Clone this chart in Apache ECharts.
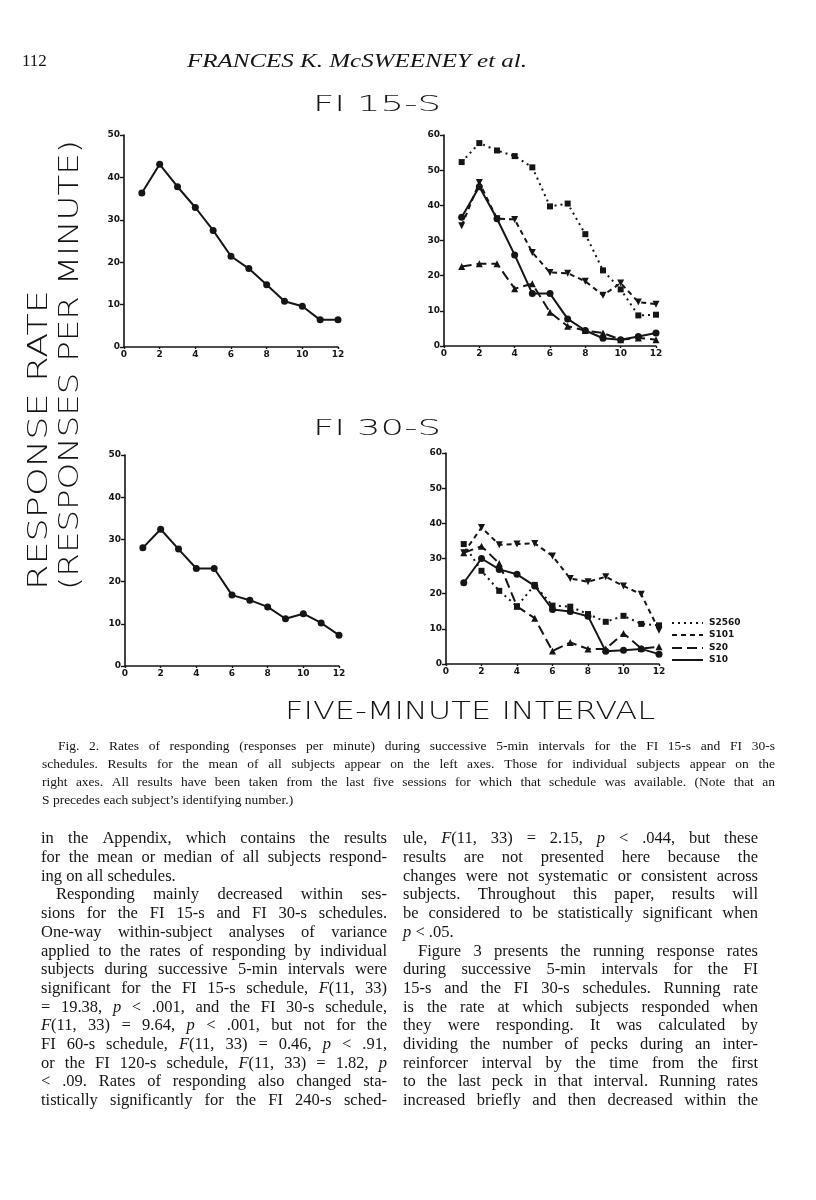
<!DOCTYPE html>
<html><head><meta charset="utf-8">
<script src="https://cdn.jsdelivr.net/npm/echarts@6/dist/echarts.min.js"></script>
<style>html,body{margin:0;padding:0;background:#fff}#c{width:816px;height:1200px}</style>
</head><body><div id="c"></div>
<script>
// ---------- data ----------
const intervals = [1, 2, 3, 4, 5, 6, 7, 8, 9, 10, 11, 12];
const xTickLabels = [0, 2, 4, 6, 8, 10, 12];
const leftYTickLabels = [0, 10, 20, 30, 40, 50];
const rightYTickLabels = [0, 10, 20, 30, 40, 50, 60];
const subjects = ['S2560', 'S101', 'S20', 'S10'];

const fi15Mean = [36.3, 43.1, 37.8, 32.9, 27.5, 21.4, 18.5, 14.7, 10.8, 9.6, 6.4, 6.4];
const fi30Mean = [28.0, 32.4, 27.7, 23.1, 23.1, 16.8, 15.6, 14.0, 11.2, 12.4, 10.2, 7.3];

const fi15S2560 = [52.3, 57.7, 55.6, 54.0, 50.8, 39.7, 40.5, 31.8, 21.5, 16.1, 8.7, 8.9];
const fi15S101  = [34.2, 46.5, 36.2, 36.0, 26.6, 20.9, 20.7, 18.4, 14.4, 17.9, 12.5, 11.9];
const fi15S20   = [22.6, 23.4, 23.4, 16.3, 17.7, 9.6, 5.6, 4.4, 3.7, 1.8, 2.3, 1.8];
const fi15S10   = [36.6, 45.3, 36.2, 25.9, 14.9, 14.9, 7.7, 4.4, 2.2, 1.8, 2.7, 3.7];

const fi30S2560 = [34.1, 26.5, 20.8, 16.4, 22.5, 16.6, 16.3, 14.2, 12.0, 13.7, 11.4, 11.0];
const fi30S101  = [31.6, 38.8, 33.9, 34.1, 34.3, 30.7, 24.3, 23.4, 24.8, 22.2, 19.8, 9.6];
const fi30S20   = [31.6, 33.5, 28.6, 16.4, 13.0, 3.7, 6.1, 4.3, 4.3, 8.7, 4.4, 4.9];
const fi30S10   = [23.1, 30.0, 26.9, 25.5, 22.2, 15.5, 14.9, 13.6, 3.6, 3.9, 4.3, 2.8];

const captionLines = [
  'Fig. 2.  Rates of responding (responses per minute) during successive 5-min intervals for the FI 15-s and FI 30-s',
  'schedules. Results for the mean of all subjects appear on the left axes. Those for individual subjects appear on the',
  'right axes. All results have been taken from the last five sessions for which that schedule was available. (Note that an',
  'S precedes each subject\u2019s identifying number.)'
];
const leftColumnLines = [
  'in the Appendix, which contains the results',
  'for the mean or median of all subjects respond-',
  'ing on all schedules.',
  'Responding mainly decreased within ses-',
  'sions for the FI 15-s and FI 30-s schedules.',
  'One-way within-subject analyses of variance',
  'applied to the rates of responding by individual',
  'subjects during successive 5-min intervals were',
  'significant for the FI 15-s schedule, *F*(11, 33)',
  '= 19.38, *p* < .001, and the FI 30-s schedule,',
  '*F*(11, 33) = 9.64, *p* < .001, but not for the',
  'FI 60-s schedule, *F*(11, 33) = 0.46, *p* < .91,',
  'or the FI 120-s schedule, *F*(11, 33) = 1.82, *p*',
  '< .09. Rates of responding also changed sta-',
  'tistically significantly for the FI 240-s sched-'
];
const rightColumnLines = [
  'ule, *F*(11, 33) = 2.15, *p* < .044, but these',
  'results are not presented here because the',
  'changes were not systematic or consistent across',
  'subjects. Throughout this paper, results will',
  'be considered to be statistically significant when',
  '*p* < .05.',
  'Figure 3 presents the running response rates',
  'during successive 5-min intervals for the FI',
  '15-s and the FI 30-s schedules. Running rate',
  'is the rate at which subjects responded when',
  'they were responding. It was calculated by',
  'dividing the number of pecks during an inter-',
  'reinforcer interval by the time from the first',
  'to the last peck in that interval. Running rates',
  'increased briefly and then decreased within the'
];

// ---------- helpers ----------
const INK = '#151515';
const meas = document.createElement('canvas').getContext('2d');
function tw(s, font) { meas.font = font; return meas.measureText(s).width; }

function txt(text, x, y, font, extra) {
  return Object.assign({
    type: 'text', x: x, y: y, silent: true,
    style: { text: text, font: font, fill: INK, textAlign: 'left', textVerticalAlign: 'middle', align: 'left', verticalAlign: 'middle' }
  }, extra || {});
}
function fitText(text, cx, cy, targetW, font, rot) {
  const w = tw(text, font);
  return {
    type: 'text', x: cx, y: cy, rotation: rot || 0, scaleX: targetW / w, silent: true,
    style: { text: text, font: font, fill: INK, textAlign: 'center', textVerticalAlign: 'middle', align: 'center', verticalAlign: 'middle' }
  };
}
function parseWord(w) {
  return w.split('*').map((p, i) => ({ t: p, it: i % 2 === 1 })).filter(s => s.t.length);
}
function textBlock(lines, o, out) {
  const fam = o.family;
  const base = 20;
  let maxRatio = 0;
  lines.forEach((ln, i) => {
    if (o.noJust.indexOf(i) >= 0) return;
    const ind = o.indent[i] || 0;
    const w = tw(ln.replace(/\*/g, ''), base + 'px ' + fam);
    maxRatio = Math.max(maxRatio, w / (o.width - ind));
  });
  const size = Math.min(o.maxSize, base / maxRatio * 0.985);
  const nf = size + 'px ' + fam, itf = 'italic ' + size + 'px ' + fam;
  const sp = tw(' ', nf);
  lines.forEach((ln, i) => {
    const y = o.y + i * o.lh;
    const ind = o.indent[i] || 0;
    const W = o.width - ind;
    const words = ln.split(/ +/).map(wd => {
      const segs = parseWord(wd);
      segs.forEach(s => { s.font = s.it ? itf : nf; s.w = tw(s.t, s.font); });
      return { segs: segs, w: segs.reduce((a, s) => a + s.w, 0) };
    });
    const total = words.reduce((a, w) => a + w.w, 0);
    const just = o.noJust.indexOf(i) < 0 && words.length > 1;
    const gap = just ? (W - total) / (words.length - 1) : sp;
    let x = o.x + ind;
    words.forEach(w => {
      let xx = x;
      w.segs.forEach(s => { out.push(txt(s.t, xx, y, s.font)); xx += s.w; });
      x += w.w + gap;
    });
  });
}

// ---------- chart ----------
const chart = echarts.init(document.getElementById('c'), null, { renderer: 'canvas' });
const grids = [
  { left: 124, top: 135, width: 214, height: 212 },
  { left: 444, top: 135, width: 212, height: 211 },
  { left: 125, top: 455, width: 214, height: 211 },
  { left: 446, top: 453, width: 213, height: 211 }
];
const labelStyle = { color: INK, fontSize: 9, fontWeight: 'bold', fontFamily: 'DejaVu Sans' };
function xAx(gi) {
  return {
    type: 'value', gridIndex: gi, min: xTickLabels[0], max: xTickLabels[xTickLabels.length - 1],
    interval: xTickLabels[1] - xTickLabels[0],
    axisLine: { show: true, onZero: false, lineStyle: { color: INK, width: 1.6 } },
    axisTick: { show: true, length: 2, lineStyle: { color: INK, width: 1.4 } },
    axisLabel: Object.assign({ margin: 3 }, labelStyle),
    splitLine: { show: false }
  };
}
function yAx(gi, ticks) {
  return {
    type: 'value', gridIndex: gi, min: ticks[0], max: ticks[ticks.length - 1],
    interval: ticks[1] - ticks[0],
    axisLine: { show: true, lineStyle: { color: INK, width: 1.6 } },
    axisTick: { show: true, length: 4, lineStyle: { color: INK, width: 1.4 } },
    axisLabel: Object.assign({ margin: 4 }, labelStyle),
    splitLine: { show: false }
  };
}
const dashes = { S2560: [2, 4], S101: [5, 4], S20: [10, 5], S10: 'solid' };
const symbols = { S2560: ['rect', 0, 6], S101: ['triangle', 180, 7], S20: ['triangle', 0, 7], S10: ['circle', 0, 7] };
function ser(name, vals, gi) {
  const sy = symbols[name] || ['circle', 0, 7];
  return {
    name: name, type: 'line', xAxisIndex: gi, yAxisIndex: gi,
    data: intervals.map((x, i) => [x, vals[i]]),
    symbol: sy[0], symbolRotate: sy[1], symbolSize: sy[2],
    lineStyle: { color: INK, width: 2, type: dashes[name] || 'solid' },
    itemStyle: { color: INK, borderWidth: 0 },
    animation: false, silent: true
  };
}

const graphic = [];
graphic.push(txt('112', 22, 62, '17px "Liberation Serif"'));
graphic.push(fitText('FRANCES K. McSWEENEY et al.', 357, 62, 340, 'italic 18px "Liberation Serif"'));
const titleFont = '300 22px "DejaVu Sans"';
graphic.push(fitText('FI 15-S', 377, 105, 128, titleFont));
graphic.push(fitText('FI 30-S', 377, 429, 128, titleFont));
graphic.push(fitText('FIVE-MINUTE INTERVAL', 470, 713, 370, '300 24px "DejaVu Sans"'));
graphic.push(fitText('RESPONSE RATE', 40, 440, 300, '300 27px "DejaVu Sans"', Math.PI / 2));
graphic.push(fitText('(RESPONSES PER MINUTE)', 71, 365, 450, '300 27px "DejaVu Sans"', Math.PI / 2));

// legend (bottom-right)
const legY = [623, 635, 648, 660];
subjects.forEach((s, i) => {
  graphic.push({ type: 'line', silent: true, shape: { x1: 672, y1: legY[i], x2: 703, y2: legY[i] },
    style: { stroke: INK, lineWidth: 2, lineDash: dashes[s] === 'solid' ? null : dashes[s] } });
  graphic.push(txt(s, 709, legY[i], 'bold 9px "DejaVu Sans"'));
});

textBlock(captionLines, { x: 42, y: 746, width: 733, lh: 18, family: '"Liberation Serif"', maxSize: 13.5,
  indent: { 0: 16 }, noJust: [3] }, graphic);
textBlock(leftColumnLines, { x: 41, y: 839, width: 346, lh: 18.7, family: '"Liberation Serif"', maxSize: 16.5,
  indent: { 3: 15 }, noJust: [2] }, graphic);
textBlock(rightColumnLines, { x: 403, y: 839, width: 355, lh: 18.7, family: '"Liberation Serif"', maxSize: 16.5,
  indent: { 6: 15 }, noJust: [5] }, graphic);

chart.setOption({
  backgroundColor: '#fff',
  animation: false,
  grid: grids,
  xAxis: [xAx(0), xAx(1), xAx(2), xAx(3)],
  yAxis: [yAx(0, leftYTickLabels), yAx(1, rightYTickLabels), yAx(2, leftYTickLabels), yAx(3, rightYTickLabels)],
  series: [
    ser('Mean FI 15-s', fi15Mean, 0),
    ser('S2560', fi15S2560, 1), ser('S101', fi15S101, 1), ser('S20', fi15S20, 1), ser('S10', fi15S10, 1),
    ser('Mean FI 30-s', fi30Mean, 2),
    ser('S2560', fi30S2560, 3), ser('S101', fi30S101, 3), ser('S20', fi30S20, 3), ser('S10', fi30S10, 3)
  ],
  graphic: graphic
});
</script>
</body></html>
